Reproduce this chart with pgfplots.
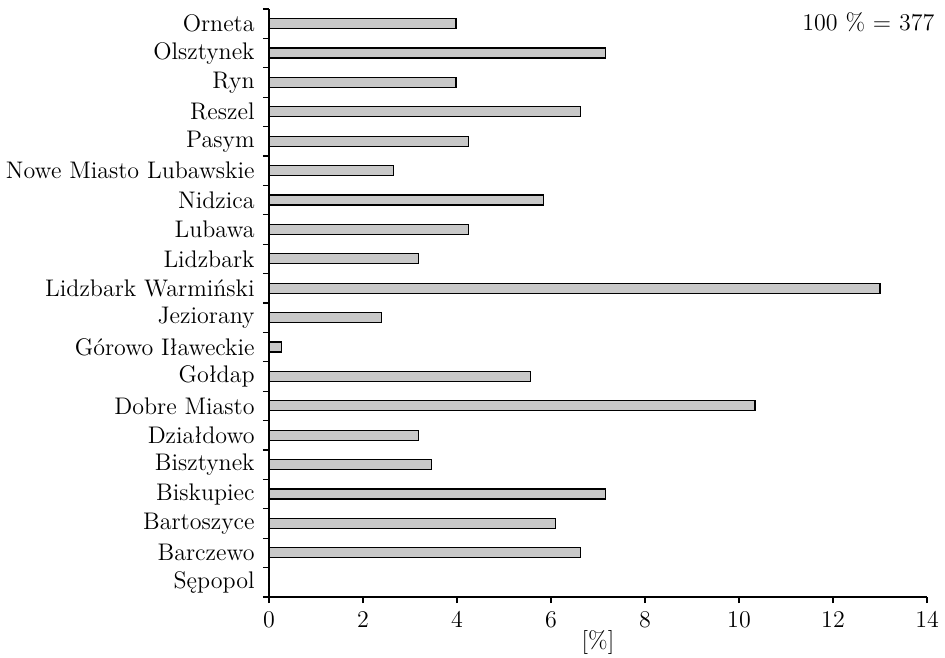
\documentclass[border=0pt]{standalone}
\usepackage{pgfplots}
\pgfplotsset{compat=1.18}
\definecolor{barfill}{RGB}{200,200,200}
\begin{document}
\fontsize{12}{14}\selectfont
\begin{tikzpicture}
\begin{axis}[
  name=ax,
  at={(0,0)}, anchor=south west,
  scale only axis,
  width=329pt, height=294pt,
  xbar, bar width=5pt,
  xmin=0, xmax=14,
  ymin=-0.5, ymax=19.5,
  axis lines*=left,
  axis line style={line width=0.6pt},
  tick align=outside,
  major tick length=3pt,
  tick style={black, line width=0.6pt},
  xtick={0,2,...,14},
  ytick={-0.5,0.5,...,19.5},
  yticklabels={},
  extra y ticks={0,1,...,19},
  extra y tick labels={S\k{e}popol,Barczewo,Bartoszyce,Biskupiec,Bisztynek,Dzia\l{}dowo,Dobre Miasto,Go\l{}dap,G\'orowo I\l{}aweckie,Jeziorany,Lidzbark Warmi\'nski,Lidzbark,Lubawa,Nidzica,Nowe Miasto Lubawskie,Pasym,Reszel,Ryn,Olsztynek,Orneta},
  extra y tick style={major tick length=0pt, yticklabel style={xshift=-3pt}},
  ticklabel style={font=\fontsize{12}{14}\selectfont},
  /pgf/number format/assume math mode=true,
  xlabel={[\%]},
  xlabel style={font=\fontsize{12}{14}\selectfont, yshift=7pt},
  clip=false,
]
\addplot[draw=black, line width=0.6pt, fill=barfill] coordinates {
  (0,0) (6.63,1) (6.10,2) (7.16,3) (3.45,4) (3.18,5) (10.34,6) (5.57,7) (0.27,8) (2.39,9)
  (13.00,10) (3.18,11) (4.24,12) (5.84,13) (2.65,14) (4.24,15) (6.63,16) (3.98,17) (7.16,18) (3.98,19)
};
\node[anchor=base east, inner sep=0pt, font=\fontsize{12}{14}\selectfont] at (rel axis cs:1.0117,0.964) {100 \% = 377};
\end{axis}
\pgfresetboundingbox
\path[use as bounding box] (-134.5pt,-30pt) rectangle (338pt,298.5pt);
\end{tikzpicture}
\end{document}
